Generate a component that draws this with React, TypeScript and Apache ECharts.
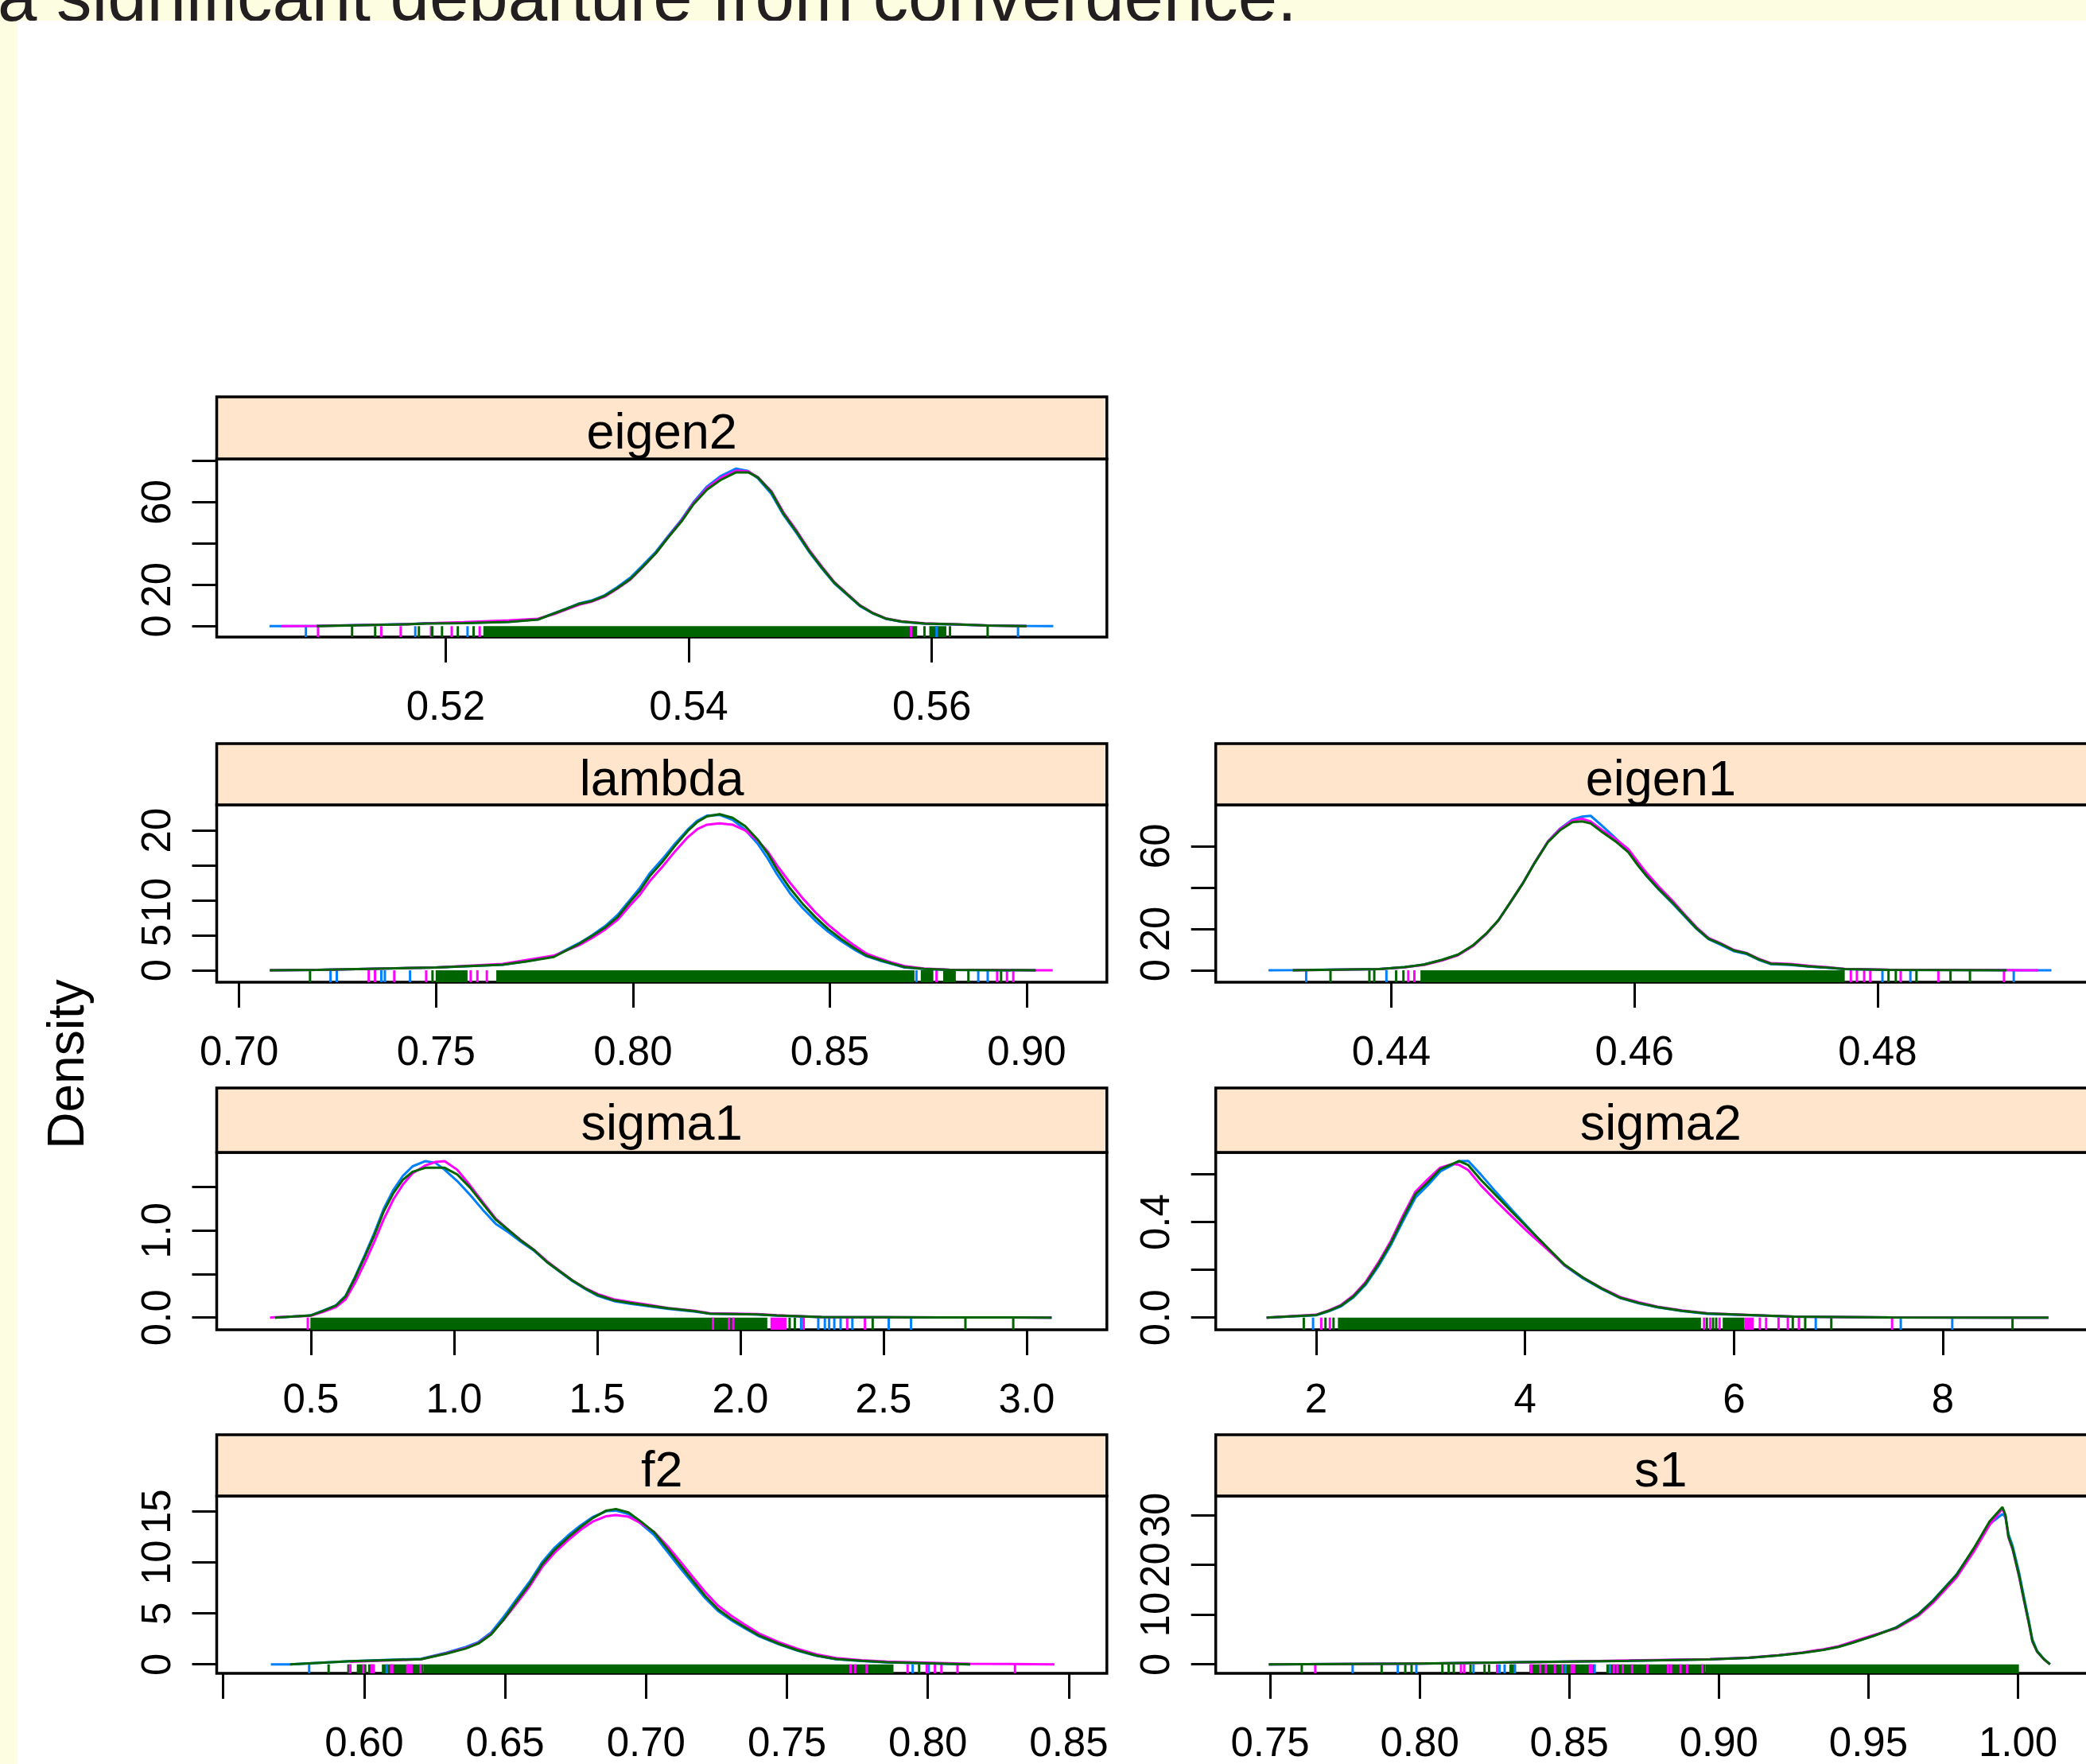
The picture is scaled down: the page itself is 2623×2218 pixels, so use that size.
import React, { useEffect, useRef } from "react";
import * as echarts from "echarts";

const WIDTH = 2623;
const HEIGHT = 2218;
const FONT = '"Liberation Sans", Arial, Helvetica, sans-serif';
const CHAIN_COLORS = ["#0080FF", "#FF00FF", "#006400"];
const STRIP_FILL = "#FFE5CC";
const PAGE_YELLOW = "#FDFDE2";

const TITLE_TEXT = "a significant departure from convergence.";
const Y_TITLE = "Density";

// ---------------- eigen2 ----------------
const eigen2X = [0.5055, 0.5065, 0.5094, 0.5168, 0.5184, 0.5215, 0.5252, 0.5276, 0.5289, 0.5299, 0.531, 0.532, 0.5331, 0.5341, 0.5352, 0.5362, 0.5373, 0.5383, 0.5394, 0.5404, 0.5415, 0.5426, 0.5439, 0.5449, 0.5457, 0.5468, 0.5478, 0.5489, 0.5499, 0.551, 0.552, 0.5531, 0.5541, 0.5552, 0.5562, 0.5575, 0.5594, 0.562, 0.5646, 0.5678, 0.57];
const eigen2Blue = [0, 0, 0.1, 1.0, 1.4, 1.5, 2.1, 3.3, 6.2, 8.4, 11.0, 12.4, 15.0, 18.8, 23.5, 29.3, 36.0, 43.5, 51.5, 60.0, 67.5, 72.5, 76.2, 75.0, 71.5, 64.0, 53.8, 44.8, 36.0, 27.6, 20.6, 14.9, 9.7, 6.0, 3.6, 2.1, 1.2, 0.8, 0.3, 0.1, 0];
const eigen2Magenta = [null, 0, 0.1, 0.9, 1.4, 1.9, 2.8, 3.6, 5.8, 8.0, 10.4, 11.8, 14.3, 18.0, 22.5, 28.4, 35.3, 43.0, 51.0, 59.5, 66.8, 71.6, 75.2, 74.8, 72.0, 65.3, 55.0, 46.0, 37.0, 28.5, 21.2, 15.4, 10.1, 6.3, 3.8, 2.3, 1.4, 0.9, 0.3, 0, null];
const eigen2Green = [null, null, 0, 0.9, 1.3, 1.5, 2.0, 3.2, 6.1, 8.3, 10.8, 12.1, 14.7, 18.3, 22.8, 28.6, 35.3, 42.8, 50.6, 59.0, 66.0, 70.6, 74.4, 74.4, 71.9, 64.8, 54.4, 45.4, 36.4, 28.0, 20.9, 15.1, 9.9, 6.1, 3.7, 2.2, 1.3, 0.9, 0.3, 0, null];
const eigen2RugBands = [[0.5231, 0.5588, 2], [0.5598, 0.5612, 2]];
const eigen2RugBlue = [0.5085, 0.5175, 0.5218, 0.5604, 0.5671];
const eigen2RugMagenta = [0.5095, 0.5147, 0.5163, 0.5188, 0.5205, 0.5228, 0.5583];
const eigen2RugGreen = [0.5123, 0.5142, 0.5178, 0.5189, 0.5197, 0.521, 0.5223, 0.5594, 0.5615, 0.5646];
const eigen2XTicks = [0.52, 0.54, 0.56];
const eigen2XLabels = [0.52, 0.54, 0.56];
const eigen2YTicks = [0, 20, 40, 60, 80];
const eigen2YLabels = [0, 20, 60];

// ---------------- lambda ----------------
const lambdaX = [0.7078, 0.72, 0.7499, 0.7669, 0.7734, 0.7799, 0.7864, 0.7896, 0.7929, 0.7961, 0.7993, 0.8018, 0.8042, 0.8075, 0.8107, 0.8139, 0.8164, 0.8188, 0.822, 0.8253, 0.8285, 0.8318, 0.8342, 0.8366, 0.8399, 0.8431, 0.8463, 0.8496, 0.8528, 0.8561, 0.8593, 0.8626, 0.8658, 0.869, 0.8739, 0.8804, 0.9023, 0.9066];
const lambdaBlue = [0, 0.05, 0.4, 0.8, 1.3, 2.0, 3.9, 5.0, 6.3, 7.9, 10.1, 11.8, 13.8, 15.9, 18.1, 20.1, 21.4, 22.1, 22.2, 21.5, 20.1, 18.0, 16.0, 13.7, 11.0, 8.9, 7.1, 5.5, 4.2, 3.0, 2.0, 1.4, 0.9, 0.4, 0.2, 0.05, 0, null];
const lambdaMagenta = [0, 0.05, 0.4, 0.9, 1.5, 2.1, 3.6, 4.6, 5.8, 7.2, 9.3, 10.8, 12.7, 14.8, 17.0, 19.0, 20.2, 20.8, 21.0, 20.8, 20.0, 18.5, 17.0, 15.0, 12.5, 10.3, 8.3, 6.5, 5.0, 3.6, 2.4, 1.7, 1.1, 0.6, 0.25, 0.08, 0.01, 0];
const lambdaGreen = [0, 0.05, 0.4, 0.8, 1.3, 1.9, 3.8, 4.9, 6.1, 7.6, 9.8, 11.4, 13.4, 15.5, 17.8, 19.9, 21.2, 22.0, 22.3, 21.8, 20.6, 18.6, 16.7, 14.4, 11.7, 9.5, 7.6, 5.9, 4.5, 3.2, 2.1, 1.5, 0.95, 0.45, 0.2, 0.05, 0, null];
const lambdaRugBands = [[0.7499, 0.758, 2], [0.7653, 0.8715, 2], [0.8731, 0.8763, 2], [0.8788, 0.882, 2]];
const lambdaRugBlue = [0.7232, 0.7248, 0.7361, 0.737, 0.7434, 0.872, 0.8877, 0.8901];
const lambdaRugMagenta = [0.7329, 0.7345, 0.7394, 0.7475, 0.7588, 0.7605, 0.7629, 0.8771, 0.8925, 0.895, 0.8966];
const lambdaRugGreen = [0.718, 0.7491, 0.8852, 0.8935];
const lambdaXTicks = [0.7, 0.75, 0.8, 0.85, 0.9];
const lambdaXLabels = [0.7, 0.75, 0.8, 0.85, 0.9];
const lambdaYTicks = [0, 5, 10, 15, 20];
const lambdaYLabels = [0, 5, 10, 20];

// ---------------- eigen1 ----------------
const eigen1X = [0.4299, 0.4319, 0.439, 0.4411, 0.4427, 0.4442, 0.4455, 0.4467, 0.4478, 0.4488, 0.4498, 0.4508, 0.4518, 0.4529, 0.4539, 0.4549, 0.4557, 0.4564, 0.4574, 0.4585, 0.4595, 0.4603, 0.461, 0.462, 0.4631, 0.4641, 0.4651, 0.4661, 0.4671, 0.4682, 0.4692, 0.4702, 0.4712, 0.4728, 0.4743, 0.4758, 0.4773, 0.4809, 0.4906, 0.4932, 0.4943];
const eigen1Blue = [0, 0.05, 0.6, 1.5, 2.8, 5.0, 7.5, 11.8, 17.5, 24.0, 32.8, 41.8, 52.0, 62.3, 68.5, 72.8, 74.2, 74.6, 69.5, 63.5, 57.5, 50.8, 45.5, 39.0, 32.5, 26.2, 20.0, 15.0, 12.3, 9.2, 7.9, 5.1, 3.0, 2.6, 1.8, 1.2, 0.6, 0.2, 0.05, 0.02, 0];
const eigen1Magenta = [null, 0, 0.6, 1.4, 2.6, 4.8, 7.3, 11.6, 17.4, 24.0, 32.8, 41.8, 52.0, 62.3, 68.3, 72.3, 73.2, 71.8, 67.5, 63.2, 58.5, 52.3, 47.0, 40.4, 33.8, 27.2, 20.8, 15.6, 13.0, 9.8, 8.4, 5.6, 3.5, 3.1, 2.2, 1.5, 0.7, 0.25, 0.05, 0, null];
const eigen1Green = [null, 0, 0.6, 1.5, 2.8, 5.1, 7.6, 12.0, 17.7, 24.1, 32.9, 41.8, 51.9, 62.0, 67.7, 71.5, 71.9, 70.9, 66.5, 62.0, 57.0, 50.6, 45.6, 39.2, 32.9, 26.6, 20.3, 15.2, 12.7, 9.5, 8.2, 5.3, 3.2, 2.8, 1.9, 1.3, 0.6, 0.2, 0, null, null];
const eigen1RugBands = [[0.4424, 0.4773, 2]];
const eigen1RugBlue = [0.433, 0.4396, 0.4804, 0.4827, 0.4912];
const eigen1RugMagenta = [0.4414, 0.4419, 0.4778, 0.4783, 0.4789, 0.4794, 0.4819, 0.485, 0.4904];
const eigen1RugGreen = [0.435, 0.4382, 0.4386, 0.4404, 0.441, 0.4809, 0.4815, 0.4832, 0.486, 0.4876];
const eigen1XTicks = [0.44, 0.46, 0.48];
const eigen1XLabels = [0.44, 0.46, 0.48];
const eigen1YTicks = [0, 20, 40, 60, 80];
const eigen1YLabels = [0, 20, 60];

// ---------------- sigma1 ----------------
const sigma1X = [0.357, 0.375, 0.498, 0.542, 0.587, 0.621, 0.654, 0.688, 0.721, 0.754, 0.788, 0.821, 0.855, 0.9, 0.935, 0.967, 1.011, 1.056, 1.1, 1.145, 1.19, 1.234, 1.279, 1.324, 1.368, 1.413, 1.458, 1.502, 1.558, 1.614, 1.681, 1.748, 1.837, 1.893, 2.06, 2.127, 2.283, 2.7, 3.087];
const sigma1Blue = [null, 0, 0.024, 0.08, 0.14, 0.25, 0.47, 0.72, 0.97, 1.25, 1.47, 1.63, 1.74, 1.8, 1.78, 1.7, 1.57, 1.41, 1.24, 1.08, 0.98, 0.87, 0.77, 0.64, 0.53, 0.42, 0.33, 0.25, 0.19, 0.16, 0.13, 0.1, 0.07, 0.045, 0.035, 0.022, 0.006, 0.002, 0];
const sigma1Magenta = [0, 0.005, 0.02, 0.065, 0.12, 0.21, 0.4, 0.63, 0.87, 1.13, 1.36, 1.53, 1.66, 1.75, 1.79, 1.8, 1.7, 1.52, 1.33, 1.14, 1.01, 0.89, 0.78, 0.65, 0.54, 0.43, 0.34, 0.27, 0.21, 0.18, 0.145, 0.11, 0.08, 0.05, 0.04, 0.026, 0.007, 0.002, 0];
const sigma1Green = [null, 0, 0.024, 0.076, 0.137, 0.244, 0.457, 0.701, 0.945, 1.22, 1.433, 1.585, 1.677, 1.723, 1.725, 1.723, 1.646, 1.494, 1.311, 1.128, 1.006, 0.884, 0.777, 0.64, 0.534, 0.427, 0.335, 0.259, 0.198, 0.168, 0.137, 0.107, 0.076, 0.046, 0.037, 0.024, 0.006, 0.002, 0];
const sigma1RugBands = [[0.498, 2.094, 2], [2.105, 2.161, 1]];
const sigma1RugBlue = [2.212, 2.272, 2.295, 2.31, 2.328, 2.35, 2.391, 2.518, 2.596];
const sigma1RugMagenta = [0.489, 1.904, 1.96, 1.975, 2.221, 2.373, 2.435];
const sigma1RugGreen = [2.172, 2.19, 2.462, 2.786, 2.953];
const sigma1XTicks = [0.5, 1.0, 1.5, 2.0, 2.5, 3.0];
const sigma1XLabels = [0.5, 1.0, 1.5, 2.0, 2.5, 3.0];
const sigma1YTicks = [0, 0.5, 1.0, 1.5];
const sigma1YLabels = [0, 1.0];

// ---------------- sigma2 ----------------
const sigma2X = [1.525, 2.0, 2.119, 2.238, 2.357, 2.475, 2.594, 2.713, 2.832, 2.951, 3.07, 3.188, 3.307, 3.367, 3.456, 3.575, 3.723, 3.872, 4.02, 4.198, 4.377, 4.555, 4.733, 4.911, 5.09, 5.268, 5.506, 5.743, 6.159, 6.575, 7.5, 9.011];
const sigma2Blue = [0, 0.01, 0.026, 0.047, 0.085, 0.138, 0.214, 0.302, 0.405, 0.503, 0.555, 0.612, 0.64, 0.655, 0.656, 0.6, 0.525, 0.452, 0.382, 0.298, 0.218, 0.164, 0.12, 0.082, 0.06, 0.043, 0.027, 0.016, 0.01, 0.004, 0.001, 0];
const sigma2Magenta = [0, 0.012, 0.03, 0.053, 0.093, 0.15, 0.23, 0.32, 0.428, 0.528, 0.58, 0.628, 0.644, 0.64, 0.618, 0.555, 0.488, 0.424, 0.362, 0.292, 0.22, 0.168, 0.124, 0.086, 0.064, 0.046, 0.03, 0.018, 0.011, 0.004, 0.001, 0];
const sigma2Green = [0, 0.011, 0.028, 0.05, 0.089, 0.144, 0.222, 0.311, 0.417, 0.517, 0.567, 0.622, 0.644, 0.656, 0.639, 0.578, 0.511, 0.444, 0.378, 0.3, 0.222, 0.167, 0.122, 0.083, 0.061, 0.044, 0.028, 0.017, 0.011, 0.004, 0.001, 0];
const sigma2RugBands = [[2.208, 5.684, 2], [5.892, 6.1, 2], [6.1, 6.189, 1]];
const sigma2RugBlue = [1.97, 6.783, 7.597, 8.09];
const sigma2RugMagenta = [2.048, 2.131, 5.714, 5.773, 5.862, 6.248, 6.308, 6.427, 6.516, 6.622, 7.514];
const sigma2RugGreen = [1.881, 2.089, 2.166, 5.74, 5.8, 5.83, 6.563, 6.682, 6.932, 8.667];
const sigma2XTicks = [2, 4, 6, 8];
const sigma2XLabels = [2, 4, 6, 8];
const sigma2YTicks = [0, 0.2, 0.4, 0.6];
const sigma2YLabels = [0, 0.4];

// ---------------- f2 ----------------
const f2X = [0.5669, 0.5737, 0.595, 0.6202, 0.6292, 0.636, 0.6406, 0.6451, 0.6496, 0.6541, 0.6587, 0.6632, 0.6677, 0.6723, 0.6768, 0.6813, 0.6859, 0.6893, 0.6938, 0.6983, 0.7029, 0.7074, 0.7119, 0.7164, 0.721, 0.7255, 0.73, 0.7346, 0.7402, 0.747, 0.7538, 0.7606, 0.7674, 0.7765, 0.7855, 0.815, 0.8449];
const f2Blue = [0, 0, 0.3, 0.55, 1.15, 1.7, 2.2, 3.15, 4.7, 6.42, 8.12, 10.05, 11.5, 12.65, 13.65, 14.5, 15.05, 15.1, 14.75, 13.8, 12.7, 11.12, 9.55, 8.02, 6.5, 5.25, 4.38, 3.62, 2.74, 1.98, 1.34, 0.83, 0.5, 0.32, 0.2, 0, null];
const f2Magenta = [null, null, 0.25, 0.5, 1.1, 1.6, 2.1, 3.0, 4.4, 5.98, 7.65, 9.58, 11.0, 12.18, 13.22, 14.05, 14.55, 14.66, 14.5, 13.85, 13.0, 11.7, 10.2, 8.65, 7.1, 5.78, 4.82, 3.98, 3.02, 2.2, 1.52, 0.98, 0.62, 0.4, 0.26, 0.05, 0];
const f2Green = [null, 0, 0.3, 0.5, 1.05, 1.55, 2.05, 2.95, 4.45, 6.2, 7.89, 9.84, 11.28, 12.45, 13.49, 14.4, 15.1, 15.26, 14.92, 14.01, 12.97, 11.41, 9.84, 8.28, 6.72, 5.42, 4.51, 3.72, 2.81, 2.03, 1.38, 0.86, 0.52, 0.34, 0.21, 0, null];
const f2RugBands = [[0.594, 0.5955, 2], [0.5974, 0.6008, 2], [0.6014, 0.6038, 2], [0.6063, 0.621, 2], [0.621, 0.7878, 2]];
const f2RugBlue = [0.5805, 0.608, 0.7946, 0.8003];
const f2RugMagenta = [0.595, 0.5997, 0.6026, 0.6033, 0.6096, 0.61, 0.6153, 0.616, 0.6168, 0.62, 0.7726, 0.7742, 0.7783, 0.7928, 0.7996, 0.8025, 0.8048, 0.8105, 0.8309];
const f2RugGreen = [0.5874, 0.7969];
const f2XTicks = [0.55, 0.6, 0.65, 0.7, 0.75, 0.8, 0.85];
const f2XLabels = [0.6, 0.65, 0.7, 0.75, 0.8, 0.85];
const f2YTicks = [0, 5, 10, 15];
const f2YLabels = [0, 5, 10, 15];

// ---------------- s1 ----------------
const s1X = [0.7496, 0.8, 0.8433, 0.87, 0.897, 0.91, 0.92, 0.928, 0.935, 0.94, 0.9445, 0.9519, 0.9592, 0.9666, 0.9715, 0.9795, 0.9852, 0.9905, 0.9948, 0.9958, 0.9968, 0.9982, 1.0003, 1.0021, 1.0036, 1.0048, 1.0064, 1.0088, 1.0107];
const s1Blue = [0, 0.15, 0.5, 0.72, 1.02, 1.32, 1.82, 2.33, 2.95, 3.55, 4.35, 5.8, 7.4, 10.1, 12.8, 18.1, 23.2, 28.2, 30.2, 29.6, 26.2, 23.8, 18.6, 13.2, 8.8, 5.0, 2.7, 1.0, 0];
const s1Magenta = [0, 0.15, 0.48, 0.78, 1.05, 1.35, 1.85, 2.4, 3.05, 3.65, 4.5, 5.9, 7.2, 9.7, 12.3, 17.5, 22.6, 28.0, 31.3, 29.8, 25.5, 23.1, 17.8, 12.5, 8.3, 4.6, 2.5, 0.95, 0];
const s1Green = [0, 0.15, 0.5, 0.7, 1.0, 1.3, 1.8, 2.3, 2.9, 3.5, 4.3, 5.75, 7.35, 10.0, 12.7, 18.0, 23.3, 28.7, 31.6, 30.0, 25.7, 23.3, 18.0, 12.7, 8.4, 4.7, 2.56, 0.96, 0];
const s1RugBands = [[0.8305, 0.8322, 2], [0.8367, 0.8587, 2], [0.8624, 0.8955, 2], [0.8955, 1.0003, 2]];
const s1RugBlue = [0.7776, 0.7927, 0.7989, 0.818, 0.8267, 0.8284, 0.8318, 0.8487, 0.8585, 0.8636];
const s1RugMagenta = [0.7651, 0.8138, 0.8149, 0.8259, 0.8373, 0.8403, 0.8422, 0.8452, 0.8477, 0.8508, 0.8516, 0.8569, 0.8575, 0.8649, 0.8661, 0.8679, 0.871, 0.8761, 0.883, 0.884, 0.8872, 0.8894, 0.8945];
const s1RugGreen = [0.7606, 0.7873, 0.7952, 0.7973, 0.8076, 0.8097, 0.8114, 0.817, 0.8217, 0.8232, 0.8304];
const s1XTicks = [0.75, 0.8, 0.85, 0.9, 0.95, 1.0];
const s1XLabels = [0.75, 0.8, 0.85, 0.9, 0.95, 1.0];
const s1YTicks = [0, 10, 20, 30];
const s1YLabels = [0, 10, 20, 30];

// ---------------- layout ----------------
const COL_LEFT = [272.5, 1528.7];
const PANEL_W = 1119.3;
const STRIP_TOP = [499, 935, 1368, 1804];
const PANEL_TOP = [577, 1012, 1449, 1881];
const PANEL_BOTTOM = [801, 1235, 1672, 2104];

const PANELS = [
  { name: "eigen2", row: 0, col: 0, xRange: [0.50116, 0.57441], yRange: [-5.27, 80.9], xDigits: 2, yDigits: 0, x: eigen2X, ys: [eigen2Blue, eigen2Magenta, eigen2Green], bands: eigen2RugBands, rug: [eigen2RugBlue, eigen2RugMagenta, eigen2RugGreen], xTicks: eigen2XTicks, xLabels: eigen2XLabels, yTicks: eigen2YTicks, yLabels: eigen2YLabels },
  { name: "lambda", row: 1, col: 0, xRange: [0.6943, 0.92036], yRange: [-1.705, 23.64], xDigits: 2, yDigits: 0, x: lambdaX, ys: [lambdaBlue, lambdaMagenta, lambdaGreen], bands: lambdaRugBands, rug: [lambdaRugBlue, lambdaRugMagenta, lambdaRugGreen], xTicks: lambdaXTicks, xLabels: lambdaXLabels, yTicks: lambdaYTicks, yLabels: lambdaYLabels },
  { name: "eigen1", row: 1, col: 1, xRange: [0.42556, 0.49878], yRange: [-5.76, 79.88], xDigits: 2, yDigits: 0, x: eigen1X, ys: [eigen1Blue, eigen1Magenta, eigen1Green], bands: eigen1RugBands, rug: [eigen1RugBlue, eigen1RugMagenta, eigen1RugGreen], xTicks: eigen1XTicks, xLabels: eigen1XLabels, yTicks: eigen1YTicks, yLabels: eigen1YLabels },
  { name: "sigma1", row: 2, col: 0, xRange: [0.1708, 3.28], yRange: [-0.14, 1.9], xDigits: 1, yDigits: 1, x: sigma1X, ys: [sigma1Blue, sigma1Magenta, sigma1Green], bands: sigma1RugBands, rug: [sigma1RugBlue, sigma1RugMagenta, sigma1RugGreen], xTicks: sigma1XTicks, xLabels: sigma1XLabels, yTicks: sigma1YTicks, yLabels: sigma1YLabels },
  { name: "sigma2", row: 2, col: 1, xRange: [1.038, 9.561], yRange: [-0.051, 0.692], xDigits: 0, yDigits: 1, x: sigma2X, ys: [sigma2Blue, sigma2Magenta, sigma2Green], bands: sigma2RugBands, rug: [sigma2RugBlue, sigma2RugMagenta, sigma2RugGreen], xTicks: sigma2XTicks, xLabels: sigma2XLabels, yTicks: sigma2YTicks, yLabels: sigma2YLabels },
  { name: "f2", row: 3, col: 0, xRange: [0.5477, 0.8635], yRange: [-0.883, 16.54], xDigits: 2, yDigits: 0, x: f2X, ys: [f2Blue, f2Magenta, f2Green], bands: f2RugBands, rug: [f2RugBlue, f2RugMagenta, f2RugGreen], xTicks: f2XTicks, xLabels: f2XLabels, yTicks: f2YTicks, yLabels: f2YLabels },
  { name: "s1", row: 3, col: 1, xRange: [0.73184, 1.02937], yRange: [-1.806, 33.83], xDigits: 2, yDigits: 0, x: s1X, ys: [s1Blue, s1Magenta, s1Green], bands: s1RugBands, rug: [s1RugBlue, s1RugMagenta, s1RugGreen], xTicks: s1XTicks, xLabels: s1XLabels, yTicks: s1YTicks, yLabels: s1YLabels },
];

function buildOption() {
  const grids: any[] = [];
  const xAxes: any[] = [];
  const yAxes: any[] = [];
  const series: any[] = [];
  const graphics: any[] = [];

  // page background: yellow band on top and on the left, title text clipped by the white area
  graphics.push({ type: "rect", z: -20, shape: { x: 0, y: 0, width: WIDTH, height: 26 }, style: { fill: PAGE_YELLOW } });
  graphics.push({ type: "rect", z: -20, shape: { x: 0, y: 0, width: 22, height: HEIGHT }, style: { fill: PAGE_YELLOW } });
  graphics.push({
    type: "text", z: -19, x: -3, y: -5,
    style: { text: TITLE_TEXT, fontSize: 88.8, fontFamily: FONT, fill: "#231F20", align: "left", verticalAlign: "middle", textAlign: "left", textVerticalAlign: "middle" },
  });
  graphics.push({ type: "rect", z: -18, shape: { x: 22, y: 26, width: WIDTH - 22, height: HEIGHT - 26 }, style: { fill: "#FFFFFF" } });

  graphics.push({
    type: "text", z: 20, x: 83, y: 1338, rotation: Math.PI / 2,
    style: { text: Y_TITLE, fontSize: 64, fontFamily: FONT, fill: "#000", align: "center", verticalAlign: "middle", textAlign: "center", textVerticalAlign: "middle" },
  });

  PANELS.forEach((p, i) => {
    const left = COL_LEFT[p.col];
    const top = PANEL_TOP[p.row];
    const bottom = PANEL_BOTTOM[p.row];
    const stripTop = STRIP_TOP[p.row];

    grids.push({
      left, top, width: PANEL_W, height: bottom - top,
      show: true, borderColor: "#000", borderWidth: 3.5, backgroundColor: "transparent",
      containLabel: false, outerBoundsMode: "none",
    });

    xAxes.push({
      type: "value", gridIndex: i, min: p.xRange[0], max: p.xRange[1],
      axisLine: { show: false, onZero: false },
      splitLine: { show: false },
      axisTick: { show: true, customValues: p.xTicks, length: 32, lineStyle: { color: "#000", width: 3 } },
      axisLabel: {
        show: true, customValues: p.xLabels, margin: 61, fontSize: 51, fontFamily: FONT, color: "#000",
        formatter: (v: number) => Number(v).toFixed(p.xDigits),
      },
    });
    yAxes.push({
      type: "value", gridIndex: i, min: p.yRange[0], max: p.yRange[1],
      axisLine: { show: false, onZero: false },
      splitLine: { show: false },
      axisTick: { show: true, customValues: p.yTicks, length: 31, lineStyle: { color: "#000", width: 3 } },
      axisLabel: {
        show: true, customValues: p.yLabels, rotate: 90, margin: 51, fontSize: 51, fontFamily: FONT, color: "#000",
        formatter: (v: number) => Number(v).toFixed(p.yDigits),
      },
    });

    // rug: bands first, then individual ticks of each chain
    const rugData: any[] = [];
    p.bands.forEach((b) => rugData.push([b[0], b[1], b[2]]));
    p.rug.forEach((ticks, c) => ticks.forEach((t) => rugData.push([t, t, c])));
    series.push({
      type: "custom", xAxisIndex: i, yAxisIndex: i, silent: true, z: 2,
      data: rugData,
      renderItem: (params: any, api: any) => {
        const x1 = api.value(0);
        const x2 = api.value(1);
        const c = api.value(2);
        const p1 = api.coord([x1, 0]);
        const p2 = api.coord([x2, 0]);
        const cs = params.coordSys;
        const bot = cs.y + cs.height;
        const single = x1 === x2;
        const w = single ? 3 : Math.max(p2[0] - p1[0], 3);
        const lx = single ? p1[0] - 1.5 : p1[0];
        return {
          type: "rect",
          shape: { x: lx, y: p1[1], width: w, height: bot - p1[1] },
          style: { fill: CHAIN_COLORS[c] },
        };
      },
    });

    p.ys.forEach((ys, c) => {
      const data = p.x.map((x, j) => [x, ys[j]]).filter((d) => d[1] !== null && d[1] !== undefined);
      series.push({
        type: "line", xAxisIndex: i, yAxisIndex: i, silent: true, z: 3 + c,
        data, showSymbol: false, symbol: "none", smooth: false,
        lineStyle: { color: CHAIN_COLORS[c], width: 3 },
      });
    });

    // strip
    graphics.push({
      type: "rect", z: 10,
      shape: { x: left, y: stripTop, width: PANEL_W, height: top - stripTop },
      style: { fill: STRIP_FILL, stroke: "#000", lineWidth: 3.5 },
    });
    graphics.push({
      type: "text", z: 11, x: left + PANEL_W / 2, y: stripTop + 42.5,
      style: { text: p.name, fontSize: 63, fontFamily: FONT, fill: "#000", align: "center", verticalAlign: "middle", textAlign: "center", textVerticalAlign: "middle" },
    });
  });

  return {
    animation: false,
    backgroundColor: "#FFFFFF",
    grid: grids,
    xAxis: xAxes,
    yAxis: yAxes,
    series,
    graphic: graphics,
  };
}

export default function App() {
  const ref = useRef<HTMLDivElement>(null);
  useEffect(() => {
    document.body.style.margin = "0";
    document.body.style.overflow = "hidden";
    if (!ref.current) return;
    const chart = echarts.init(ref.current, null, { renderer: "svg", width: WIDTH, height: HEIGHT });
    chart.setOption(buildOption() as any);
    return () => chart.dispose();
  }, []);
  return <div ref={ref} style={{ position: "absolute", left: 0, top: 0, width: WIDTH, height: HEIGHT }} />;
}
